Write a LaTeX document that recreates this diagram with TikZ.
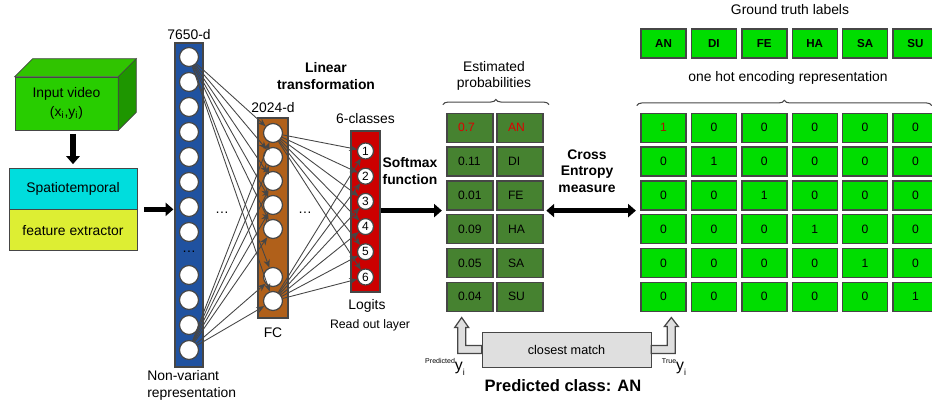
\documentclass[tikz,border=0pt]{standalone}
\usepackage{fontspec}
\setmainfont{Liberation Sans}
\usepackage{xcolor}
\definecolor{vidGreen}{RGB}{40,205,0}
\definecolor{vidTop}{RGB}{48,196,0}
\definecolor{vidSide}{RGB}{30,150,0}
\definecolor{stCyan}{RGB}{0,221,221}
\definecolor{feYellow}{RGB}{221,238,51}
\definecolor{inBlue}{RGB}{32,82,160}
\definecolor{fcBrown}{RGB}{176,96,26}
\definecolor{lgRed}{RGB}{204,0,0}
\definecolor{prGreen}{RGB}{70,130,48}
\definecolor{gtGreen}{RGB}{0,221,0}
\definecolor{edgeGray}{RGB}{70,70,70}
\definecolor{hotRed}{RGB}{220,0,0}
\definecolor{oneRed}{RGB}{170,20,0}
\usetikzlibrary{
  arrows.meta,
  positioning,
  calc,
  decorations.pathreplacing
}
\tikzset{
  layerbox/.style={
    draw=edgeGray,
    fill=#1,
    line width=0.8pt,
    inner sep=0pt,
    minimum width=0.56cm
  },
  neuron/.style={
    circle,
    draw=edgeGray,
    fill=white,
    line width=0.7pt,
    minimum size=0.38cm,
    inner sep=0pt
  },
  smallneuron/.style={neuron, minimum size=0.32cm, font=\fontsize{6.8}{7}\selectfont},
  wire/.style={
    -{Stealth[length=4.5pt,width=3.6pt]},
    edgeGray,
    line width=0.5pt
  },
  bigarrow/.style={
    -{Triangle[length=4.5pt,width=7.5pt]},
    line width=3pt,
    black
  },
  probcell/.style={
    draw=edgeGray,
    fill=prGreen,
    line width=0.8pt,
    text width=0.48cm,
    inner xsep=0.22cm,
    inner ysep=0pt,
    minimum height=0.58cm,
    align=left,
    font=\fontsize{6.9}{8}\selectfont
  },
  gtcell/.style={
    draw=edgeGray,
    fill=gtGreen,
    line width=0.8pt,
    minimum width=0.9cm,
    minimum height=0.58cm,
    inner sep=0pt,
    font=\fontsize{6.9}{8}\selectfont
  },
  gtlabel/.style={gtcell, font=\fontsize{6.6}{8}\selectfont\bfseries},
  lbl/.style={font=\fontsize{7.9}{9.5}\selectfont, inner sep=0pt},
  boldlbl/.style={font=\fontsize{7.9}{9.5}\selectfont\bfseries, align=center, inner sep=0pt},
  brace/.style={decorate, decoration={brace, amplitude=3pt}, edgeGray, line width=0.6pt},
  hollowarrow/.style={draw=edgeGray, fill=gray!25, line width=0.7pt}
}

\begin{document}
\begin{tikzpicture}[x=0.02cm, y=-0.02cm]
  \useasboundingbox (0,0) rectangle (932,403);

  % Input video + feature extractor
  \node[draw=edgeGray, fill=vidGreen, minimum width=2.06cm, minimum height=1.06cm, align=center, lbl]
    (video) at (66.5,103.5) {Input video\\[1pt](x\textsubscript{i},y\textsubscript{i})};
  \filldraw[fill=vidTop, draw=edgeGray] (video.north west) -- ++(18,-18)
    -- ($(video.north east)+(18,-18)$) -- (video.north east) -- cycle;
  \filldraw[fill=vidSide, draw=edgeGray] (video.north east) -- ++(18,-18)
    -- ($(video.south east)+(18,-18)$) -- (video.south east) -- cycle;

  \node[draw=edgeGray, fill=stCyan, minimum width=2.56cm, minimum height=0.82cm, lbl]
    (spatio) at (73,188.5) {Spatiotemporal};
  \node[draw=edgeGray, fill=feYellow, minimum width=2.56cm, minimum height=0.82cm, lbl, below=0pt of spatio]
    (feat) {feature extractor};
  \draw[bigarrow, shorten <=2pt, shorten >=2pt] (spatio.north |- video.south) -- (spatio.north);

  % Input layer
  \node[layerbox=inBlue, minimum height=6.48cm] (inlayer) at (189,205) {};
  \foreach \k in {1,...,8}
    \node[neuron] (b\k) at (189,{32+25*\k}) {};
  \foreach \k in {9,...,12}
    \node[neuron] (b\k) at (189,{50+25*\k}) {};
  \node[lbl] (bdots) at (189,252) {\dots};
  \node[lbl] (indim) at (189,35) {7650-d};
  \node[lbl, align=left, anchor=north west] (inname) at (147,370) {Non-variant\\representation};
  \draw[bigarrow, shorten <=4pt, shorten >=0.5pt] (feat.north east) -- (inlayer.west |- feat.north);

  % FC layer
  \node[layerbox=fcBrown, minimum width=0.6cm, minimum height=4cm] (fclayer) at (273,218) {};
  \foreach \k/\y in {1/133,2/157,3/181,4/205,5/229,6/277,7/301}
    \node[neuron] (f\k) at (273,\y) {};
  \node[lbl] (fcdim) at (273,108) {2024-d};
  \node[lbl] (fcname) at (273,333) {FC};

  % Read out layer
  \node[layerbox=lgRed, minimum width=0.58cm, minimum height=3.22cm] (logit) at (365.5,211.5) {};
  \foreach \k in {1,...,6}
    \node[smallneuron] (l\k) at (365.5,{125.8+25.2*\k}) {\k};
  \node[lbl] (lgdim) at (365.5,119) {6-classes};
  \node[lbl] (lgname) at (367,306) {Logits};
  \node[lbl, font=\fontsize{7}{8}\selectfont] (lgread) at (370,325) {Read out layer};

  % Dense connections
  \foreach \s in {b1,b12}
    \foreach \t in {1,...,7}
      \draw[wire] (\s) -- (f\t);
  \foreach \s in {f1,f7}
    \foreach \t in {1,...,6}
      \draw[wire] (\s) -- (l\t);
  \node[lbl] (dots1) at (222,213) {\dots};
  \node[lbl] (dots2) at (305,213) {\dots};

  \node[boldlbl] (lintitle) at (326,76) {Linear\\transformation};
  \node[boldlbl] (smtitle) at (410,171) {Softmax\\function};

  % Estimated probabilities
  \foreach \p/\c/\tc [count=\i] in {0.7/AN/hotRed,0.11/DI/black,0.01/FE/black,0.09/HA/black,0.05/SA/black,0.04/SU/black} {
    \node[probcell, text=\tc] (p\i) at (470,{94+33.8*\i}) {\p};
    \node[probcell, text=\tc] (c\i) at (520,{94+33.8*\i}) {\c};
  }
  \draw[brace] ([xshift=-2pt,yshift=4.5pt]p1.north west) -- ([xshift=3pt,yshift=4.5pt]c1.north east);
  \node[lbl, align=center] (esttitle) at (494,76) {Estimated\\probabilities};
  \draw[bigarrow, line width=2.4pt, shorten >=2.5pt] (logit.east |- p3.south) -- (p3.south west);

  % Ground truth, one hot encoding
  \node[lbl] (gttitle) at (790,10) {Ground truth labels};
  \foreach \e [count=\j] in {AN,DI,FE,HA,SA,SU}
    \node[gtlabel] (gt\j) at ({613.1+50.4*\j},43.5) {\e};
  \node[lbl] (ohtitle) at (788,78) {one hot encoding representation};
  \foreach \i in {1,...,6}
    \foreach \j in {1,...,6}
      \node[gtcell] (o\i\j) at ({613.1+50.4*\j},{94+33.8*\i})
        {\ifnum\i=\j\relax\ifnum\i=1\relax\color{oneRed}\fi 1\else 0\fi};
  \draw[brace] ([xshift=-2pt,yshift=4pt]o11.north west) -- ++(295,0);

  % Cross entropy
  \node[boldlbl] (cetitle) at (587,171) {Cross\\Entropy\\measure};
  \draw[bigarrow, {Triangle[length=4.5pt,width=7.5pt]}-{Triangle[length=4.5pt,width=7.5pt]},
    line width=2.4pt, shorten <=1.5pt, shorten >=2.5pt]
    (c3.south east) -- (o31.south west);

  % Closest match
  \node[draw=edgeGray, fill=gray!25, minimum width=3.38cm, minimum height=0.7cm, lbl,
    font=\fontsize{7.2}{8}\selectfont] (match) at (566.5,349.5) {closest match};
  \draw[hollowarrow] (match.west) ++(0,-4) -- ++(-16,0) -- ++(0,-18) -- ++(3,0) -- ++(-7,-10)
    -- ++(-7,10) -- ++(3,0) -- ++(0,26) -- ++(24,0) -- cycle;
  \draw[hollowarrow] (match.east) ++(0,-4) -- ++(16,0) -- ++(0,-19) -- ++(-3,0) -- ++(7,-9)
    -- ++(7,9) -- ++(-3,0) -- ++(0,27) -- ++(-24,0) -- cycle;
  \node[inner sep=0pt, font=\fontsize{9}{10}\selectfont] (predy) at (445,367)
    {\raisebox{4pt}{\fontsize{4}{4}\selectfont Predicted}y\raisebox{-2.5pt}{\fontsize{5}{5}\selectfont i}};
  \node[inner sep=0pt, font=\fontsize{9}{10}\selectfont] (truey) at (674,367)
    {\raisebox{4pt}{\fontsize{4}{4}\selectfont True}y\raisebox{-2.5pt}{\fontsize{5}{5}\selectfont i}};
  \node[inner sep=0pt, font=\fontsize{9.4}{11}\selectfont\bfseries] (predclass) at (563,386) {Predicted class: AN};
\end{tikzpicture}
\end{document}
